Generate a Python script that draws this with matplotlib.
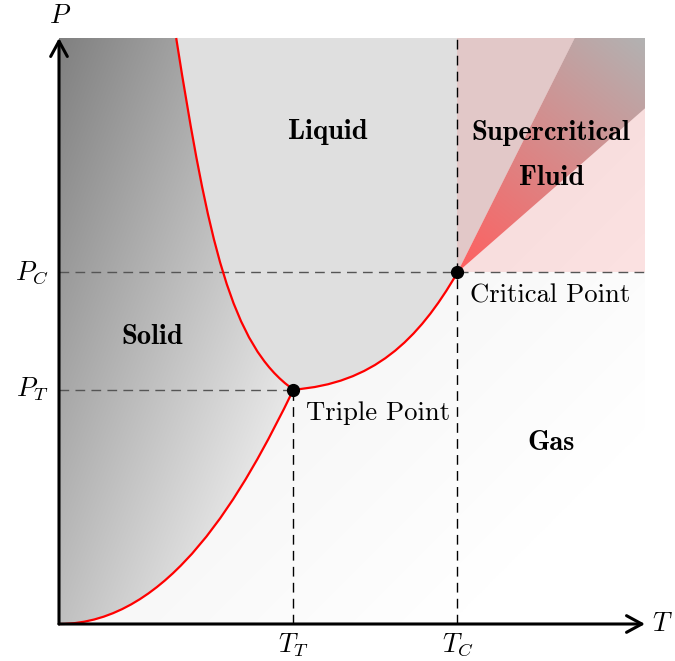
import numpy as np
import matplotlib
import matplotlib.pyplot as plt
from matplotlib.path import Path
from matplotlib.patches import PathPatch, FancyArrowPatch

matplotlib.use("Agg")
plt.rcParams["mathtext.fontset"] = "cm"

# puntos característicos del diagrama (T, P)
triple = (4.0, 4.0)
critico = (6.8, 6.0)
t_max, p_max = 10.0, 10.0

# curvas de equilibrio como Bézier cúbicas (puntos de control)
sublimacion = [(0.0, 0.0), (1.9, 0.0), (3.15, 2.25), triple]
fusion = [triple, (2.935, 4.746), (2.546, 6.542), (2.0, 10.0)]
vaporizacion = [triple, (5.35, 4.1), (6.125, 4.83), critico]

# bordes de la cuña supercrítica
cuna_sup = (8.8, 10.0)
cuna_der = (10.0, 8.8)

etiquetas_fase = ["Solid", "Liquid", "Gas", "Supercritical", "Fluid"]
pos_fase = [(1.59, 4.9), (4.59, 8.4), (8.4, 3.09), (8.4, 8.38), (8.4, 7.61)]

M, C4, L, CL = Path.MOVETO, Path.CURVE4, Path.LINETO, Path.CLOSEPOLY


def bez(pts, reverse=False):
    p = pts[::-1] if reverse else pts
    return list(p[1:]), [C4] * 3


fig = plt.figure(figsize=(6.75, 6.61), dpi=100)
ax = fig.add_axes([0, 0, 1, 1])
ax.set_xlim(-59 / 58.6, 616 / 58.6)
ax.set_ylim(-37 / 58.6, 624 / 58.6)
ax.axis("off")

xx, yy = np.meshgrid(np.linspace(0, 10, 400), np.linspace(0, 10, 400))

# --- sólido: degradado gris oscuro -> claro
v, c = bez(sublimacion)
v2, c2 = bez(fusion)
path_solido = Path([(0, 0)] + v + v2 + [(0, 10), (0, 0)],
                   [M] + c + c2 + [L, CL])
gris = np.clip(128 + 16.4 * xx + 6.4 * (10 - yy), 128, 240) / 255
img = ax.imshow(np.dstack([gris] * 3), extent=(0, 10, 0, 10), origin="lower",
                interpolation="bilinear", zorder=1)
img.set_clip_path(PathPatch(path_solido, transform=ax.transData))

# --- gas: casi blanco
v3, c3 = bez(vaporizacion)
path_gas = Path([(0, 0)] + v + v3 + [cuna_der, (10, 0), (0, 0)],
                [M] + c + c3 + [L, L, CL])
blanco = np.clip(247 + 1.2 * (xx - yy), 245, 255) / 255
img = ax.imshow(np.dstack([blanco] * 3), extent=(0, 10, 0, 10), origin="lower",
                interpolation="bilinear", zorder=1)
img.set_clip_path(PathPatch(path_gas, transform=ax.transData))

# --- líquido: gris plano
v4, c4 = bez(vaporizacion, reverse=True)
path_liq = Path([triple] + v2 + [cuna_sup, critico] + v4 + [triple],
                [M] + c2 + [L, L] + c4 + [CL])
ax.add_patch(PathPatch(path_liq, facecolor="#dfdfdf", edgecolor="none", zorder=1))

# --- fluido supercrítico: tinte rojo y cuña con degradado
ax.add_patch(plt.Rectangle(critico, t_max - critico[0], p_max - critico[1],
                           facecolor="red", alpha=0.1, edgecolor="none", zorder=2))
dx, dy = t_max - critico[0], p_max - critico[1]
t = np.clip(((xx - critico[0]) * dx + (yy - critico[1]) * dy) / (dx**2 + dy**2), 0, 1)
ini, fin = np.array([255, 95, 95]) / 255, np.array([178, 178, 178]) / 255
cuna_rgb = ini[None, None, :] * (1 - t[..., None]) + fin[None, None, :] * t[..., None]
img = ax.imshow(cuna_rgb, extent=(0, 10, 0, 10), origin="lower",
                interpolation="bilinear", zorder=3)
path_cuna = Path([critico, cuna_sup, (10, 10), cuna_der, critico], [M, L, L, L, CL])
img.set_clip_path(PathPatch(path_cuna, transform=ax.transData))

# --- líneas de referencia discontinuas
dash = (0, (7, 4.5))
ax.plot([0, t_max], [critico[1]] * 2, color="#555555", lw=1, ls=dash, zorder=4)
ax.plot([0, triple[0]], [triple[1]] * 2, color="#555555", lw=1, ls=dash, zorder=4)
ax.plot([critico[0]] * 2, [0, p_max], color="black", lw=1, ls=dash, zorder=4)
ax.plot([triple[0]] * 2, [0, triple[1]], color="black", lw=1, ls=dash, zorder=4)

# --- curvas de equilibrio
for curva in (sublimacion, fusion, vaporizacion):
    ax.add_patch(PathPatch(Path(curva, [M, C4, C4, C4]), facecolor="none",
                           edgecolor="red", lw=1.6, zorder=5))

ax.plot(*zip(triple, critico), "o", color="black", ms=8.5, zorder=6)

# --- ejes con flecha
for fin_eje in [(t_max, 0), (0, p_max)]:
    ax.add_patch(FancyArrowPatch((0, 0), fin_eje, arrowstyle="->,head_length=0.55,head_width=0.3",
                                 mutation_scale=20, lw=2.2, color="black",
                                 shrinkA=0, shrinkB=0, zorder=7))

fs = 19.2
ax.text(10.3, 0.0, "$T$", fontsize=fs, ha="center", va="center")
ax.text(0.02, 10.37, "$P$", fontsize=fs, ha="center", va="center")
ax.text(-0.18, critico[1], "$P_C$", fontsize=fs, ha="right", va="center")
ax.text(-0.18, triple[1], "$P_T$", fontsize=fs, ha="right", va="center")
ax.text(triple[0], -0.12, "$T_T$", fontsize=fs, ha="center", va="top")
ax.text(critico[0], -0.12, "$T_C$", fontsize=fs, ha="center", va="top")

for txt, (x, y) in zip(etiquetas_fase, pos_fase):
    ax.text(x, y, txt, family="cmb10", fontsize=20.5, ha="center", va="center", zorder=8)

ax.text(7.01, 5.6, "Critical Point", family="cmr10", fontsize=fs, ha="left", va="center", zorder=8)
ax.text(4.21, 3.6, "Triple Point", family="cmr10", fontsize=fs, ha="left", va="center", zorder=8)

fig.savefig("out.png", dpi=100)
